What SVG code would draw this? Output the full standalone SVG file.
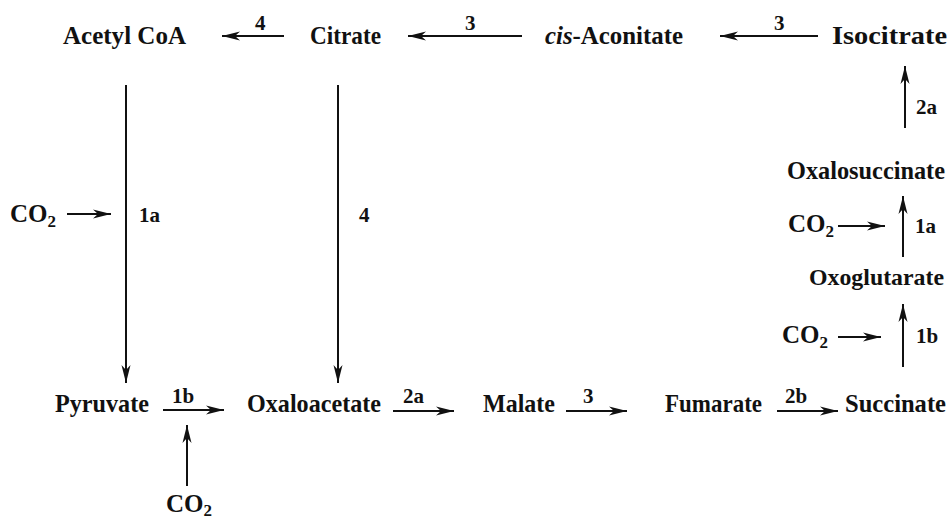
<svg xmlns="http://www.w3.org/2000/svg" width="949" height="521" viewBox="0 0 949 521">
<style>
  .n { font-family: "Liberation Serif", "Times New Roman", serif; font-weight: bold; font-size: 25px; fill: #111; }
  .l { font-family: "Liberation Serif", "Times New Roman", serif; font-weight: bold; font-size: 21px; fill: #111; }
  .sub { font-size: 17px; }
  .a { stroke: #111; stroke-width: 2; fill: none; marker-end: url(#ah); }
</style>
<defs>
  <marker id="ah" markerUnits="userSpaceOnUse" markerWidth="20" markerHeight="12" refX="18" refY="6" orient="auto">
    <path d="M0,1.5 L18,6 L0,10.5 L5,6 Z" fill="#111"/>
  </marker>
</defs>
<rect width="949" height="521" fill="#fff"/>

<g id="connectors">
  <line class="a" x1="284" y1="36" x2="222" y2="36"/>
  <line class="a" x1="522" y1="36" x2="408" y2="36"/>
  <line class="a" x1="818" y1="36" x2="720" y2="36"/>
  <line class="a" x1="126" y1="85" x2="126" y2="383"/>
  <line class="a" x1="338" y1="85" x2="338" y2="383"/>
  <line class="a" x1="67" y1="214" x2="111" y2="214"/>
  <line class="a" x1="905" y1="128" x2="905" y2="66"/>
  <line class="a" x1="903" y1="257" x2="903" y2="196"/>
  <line class="a" x1="838" y1="226" x2="885" y2="226"/>
  <line class="a" x1="903" y1="367" x2="903" y2="304"/>
  <line class="a" x1="838" y1="337" x2="881" y2="337"/>
  <line class="a" x1="163" y1="410" x2="224" y2="410"/>
  <line class="a" x1="187" y1="486" x2="187" y2="425"/>
  <line class="a" x1="393" y1="411" x2="454" y2="411"/>
  <line class="a" x1="566" y1="411" x2="627" y2="411"/>
  <line class="a" x1="777" y1="411" x2="838" y2="411"/>
</g>

<g id="labels">
  <text class="l" x="255" y="30">4</text>
  <text class="l" x="465" y="30">3</text>
  <text class="l" x="774" y="30">3</text>
  <text class="l" x="139" y="222">1a</text>
  <text class="l" x="359" y="222">4</text>
  <text class="l" x="916" y="114">2a</text>
  <text class="l" x="915" y="233">1a</text>
  <text class="l" x="916" y="343">1b</text>
  <text class="l" x="172" y="403">1b</text>
  <text class="l" x="403" y="403">2a</text>
  <text class="l" x="583" y="403">3</text>
  <text class="l" x="785" y="403">2b</text>
</g>

<g id="acetylcoa"><text class="n" x="63" y="44" textLength="123" lengthAdjust="spacingAndGlyphs">Acetyl CoA</text></g>
<g id="citrate"><text class="n" x="310" y="44" textLength="71" lengthAdjust="spacingAndGlyphs">Citrate</text></g>
<g id="cisaconitate"><text class="n" x="545" y="44" textLength="138" lengthAdjust="spacingAndGlyphs"><tspan font-style="italic">cis</tspan>-Aconitate</text></g>
<g id="isocitrate"><text class="n" x="832" y="44" textLength="115" lengthAdjust="spacingAndGlyphs">Isocitrate</text></g>
<g id="oxalosuccinate"><text class="n" x="787" y="179" textLength="158" lengthAdjust="spacingAndGlyphs">Oxalosuccinate</text></g>
<g id="oxoglutarate"><text class="n" x="809" y="285" style="font-size:23.5px" textLength="135" lengthAdjust="spacingAndGlyphs">Oxoglutarate</text></g>
<g id="pyruvate"><text class="n" x="55" y="412" textLength="94" lengthAdjust="spacingAndGlyphs">Pyruvate</text></g>
<g id="oxaloacetate"><text class="n" x="247" y="412" textLength="134" lengthAdjust="spacingAndGlyphs">Oxaloacetate</text></g>
<g id="malate"><text class="n" x="483" y="412" textLength="72" lengthAdjust="spacingAndGlyphs">Malate</text></g>
<g id="fumarate"><text class="n" x="665" y="412" textLength="97" lengthAdjust="spacingAndGlyphs">Fumarate</text></g>
<g id="succinate"><text class="n" x="845" y="412" textLength="101" lengthAdjust="spacingAndGlyphs">Succinate</text></g>
<g id="co2-left"><text class="n" x="10" y="222">CO<tspan class="sub" dy="5">2</tspan></text></g>
<g id="co2-mid"><text class="n" x="788" y="232">CO<tspan class="sub" dy="5">2</tspan></text></g>
<g id="co2-low"><text class="n" x="782" y="343">CO<tspan class="sub" dy="5">2</tspan></text></g>
<g id="co2-bottom"><text class="n" x="166" y="512">CO<tspan class="sub" dy="4">2</tspan></text></g>
</svg>
